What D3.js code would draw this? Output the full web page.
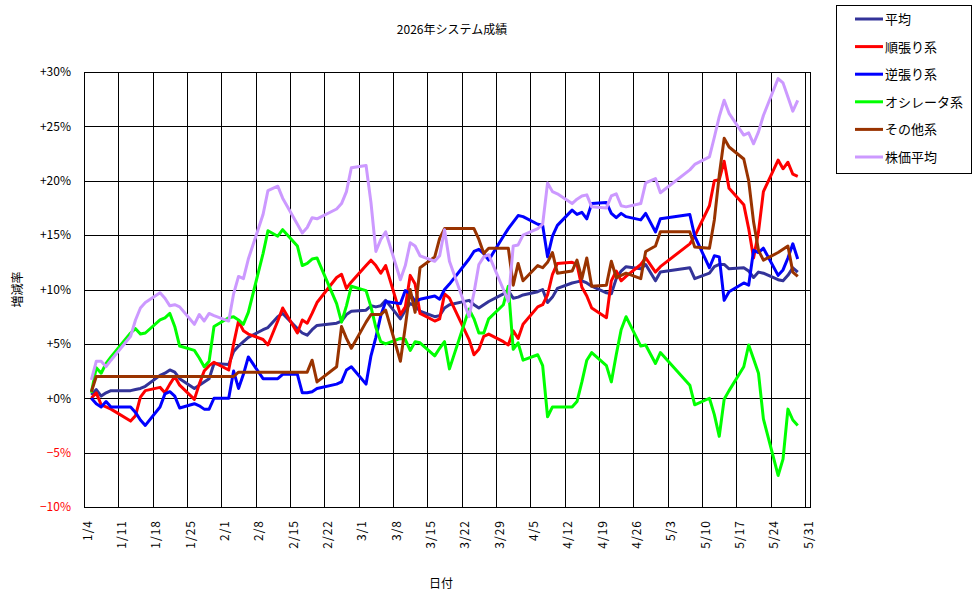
<!DOCTYPE html>
<html>
<head>
<meta charset="utf-8">
<script src="https://cdn.jsdelivr.net/npm/d3@7"></script>
<style>
  body { margin: 0; background: #fff; }
  text { font-family: "MS PGothic", "Noto Sans CJK JP", sans-serif; }
</style>
</head>
<body>
<script>
// trading days (2026)
var days = [
  "1/5","1/6","1/7","1/8","1/9","1/13","1/14","1/15","1/16","1/19","1/20","1/21","1/22","1/23","1/26","1/27","1/28","1/29","1/30",
  "2/2","2/3","2/4","2/5","2/6","2/9","2/10","2/12","2/13","2/16","2/17","2/18","2/19","2/20","2/24","2/25","2/26","2/27",
  "3/2","3/3","3/4","3/5","3/6","3/9","3/10","3/11","3/12","3/13","3/16","3/17","3/18","3/19","3/23","3/24","3/25","3/26","3/27","3/30","3/31",
  "4/1","4/2","4/3","4/6","4/7","4/8","4/9","4/10","4/13","4/14","4/15","4/16","4/17","4/20","4/21","4/22","4/23","4/24","4/27","4/28","4/30",
  "5/1","5/7","5/8","5/11","5/12","5/13","5/14","5/15","5/18","5/19","5/20","5/21","5/22","5/25","5/26","5/27","5/28","5/29"
];

// series values (%)
var heikin = [
  0.3,0.8,0.2,0.5,0.7, 0.7,0.8,0.9,1.1, 2.1,2.3,2.6,2.4,1.8, 0.9,1.2,1.5,1.8,3.2,
  3.1,4.3,4.8,5.2,5.6, 6.3,6.5,7.5,7.8, 6.4,6.0,5.8,6.3,6.7, 6.9,7.1,7.7,8.0,
  8.1,8.5,8.4,8.5,9.0, 7.3,8.1,8.7,8.5,8.0, 7.5,7.6,8.3,8.6, 9.0,8.6,8.3,8.6,8.9, 9.6,9.9,
  9.2,9.3,9.5, 9.8,10.0,8.8,9.3,10.1, 10.6,10.7,10.8,10.6,10.3, 9.7,9.6,11.0,11.7,12.1, 11.9,12.3,10.8,
  11.6, 12.0,11.0, 11.5,12.1,12.3,12.3,11.9, 12.0,11.7,11.1,11.6,11.5, 10.9,10.8,11.3,12.0,11.6
];
var junbari = [
  0.0,0.5,-0.6,-0.8,-1.0, -2.1,-1.6,0.1,0.7, 1.0,0.5,1.3,2.0,1.2, -0.1,1.3,2.5,3.0,3.3,
  2.6,5.0,7.1,6.2,5.9, 5.4,4.9,7.1,8.3, 6.0,7.2,6.9,7.8,8.8, 11.1,11.4,10.1,10.7,
  12.2,12.7,12.2,11.5,12.2, 7.7,8.4,11.3,10.5,7.8, 7.1,7.3,9.6,9.2, 5.4,4.0,4.5,5.7,5.9, 5.2,4.9,
  6.2,5.5,6.8, 8.4,8.6,9.5,11.4,12.4, 12.5,12.3,10.2,9.4,8.3, 7.4,10.8,11.7,10.8,11.2, 12.3,12.9,11.6,
  12.1, 14.2,14.9, 17.7,20.0,20.1,21.8,19.3, 17.8,15.6,12.9,15.3,19.0, 21.9,21.1,21.7,20.6,20.4
];
var gyakubari = [
  0.0,-0.5,-0.8,-0.3,-0.8, -0.8,-1.3,-2.0,-2.5, -0.8,0.4,0.6,0.2,-0.9, -0.5,-0.7,-1.0,-1.0,0.0,
  0.0,2.5,0.9,2.2,3.8, 1.8,1.8,1.8,2.2, 2.2,0.5,0.5,0.6,0.9, 1.3,1.5,2.6,2.9,
  1.3,3.9,5.6,7.6,8.9, 8.7,9.9,9.6,8.9,9.1, 9.4,9.1,10.0,10.5, 12.8,13.5,13.7,13.3,12.7, 14.9,15.6,
  16.2,16.8,16.7, 16.0,15.9,13.0,14.9,15.9, 17.3,16.9,17.1,16.5,17.9, 18.0,17.0,16.6,17.0,16.7, 16.4,17.0,15.3,
  16.5, 16.9,14.9, 12.0,13.1,13.0,9.0,9.8, 10.6,10.4,13.6,13.4,13.8, 11.3,11.8,12.9,14.2,12.8
];
var oscillator = [
  0.5,2.8,2.3,3.2,3.8, 6.0,6.4,5.9,6.0, 7.2,7.4,7.8,6.6,4.8, 4.4,3.7,2.9,3.4,6.6,
  7.4,7.5,7.2,6.8,7.9, 13.3,15.4,14.9,15.5, 14.0,12.2,12.4,12.8,12.9, 8.7,7.0,8.5,10.3,
  9.9,8.4,6.5,5.2,5.0, 5.5,5.4,4.4,5.2,5.1, 3.9,4.6,5.2,2.7, 8.2,7.3,6.0,6.0,7.3, 8.6,10.3,
  4.5,5.1,3.5, 4.0,3.0,-1.7,-0.8,-0.8, -0.8,-0.3,1.5,3.5,4.2, 3.0,1.5,4.0,6.3,7.5, 4.8,4.9,3.2,
  4.2, 1.2,-0.6, 0.0,-1.5,-3.5,-0.1,0.7, 2.9,4.9,3.6,2.3,-1.9, -7.1,-5.6,-1.0,-2.0,-2.5
];
var sonota = [
  0.6,2.0,2.0,2.0,2.0, 2.0,2.0,2.0,2.0, 2.0,2.0,2.0,2.0,2.0, 2.0,2.0,2.0,2.0,2.0,
  2.0,2.0,2.4,2.4,2.4, 2.4,2.4,2.4,2.4, 2.4,2.4,2.4,3.5,1.5, 2.9,6.6,5.5,4.6,
  7.0,7.7,7.7,7.7,8.1, 3.4,6.6,10.0,7.9,12.0, 13.0,14.7,15.6,15.6, 15.6,15.6,14.6,13.3,13.8, 13.8,13.8,
  10.4,12.4,10.8, 12.2,12.0,12.5,13.4,11.5, 11.7,12.7,11.0,12.9,10.3, 10.4,12.6,11.1,11.3,11.5, 11.0,13.5,14.0,
  15.3, 15.3,13.9, 13.8,16.4,20.5,23.9,23.1, 22.0,20.0,16.2,13.6,12.7, 13.4,13.7,14.0,11.6,11.2
];
var kabuka = [
  1.7,3.4,3.4,2.9,3.5, 5.7,7.2,8.3,8.8, 9.7,9.2,8.5,8.6,8.4, 6.8,7.7,7.1,7.8,7.6,
  7.1,9.6,11.2,11.0,12.8, 16.9,19.1,19.5,18.4, 16.0,15.2,15.7,16.6,16.5, 17.4,17.9,19.0,21.2,
  21.4,18.0,13.5,14.6,15.3, 10.9,12.2,14.3,14.0,13.1, 12.6,13.1,15.5,12.6, 7.5,9.7,12.3,13.0,13.2, 10.0,8.9,
  14.0,14.1,15.0, 15.6,16.0,19.8,19.0,18.8, 17.9,18.3,18.6,18.7,17.6, 17.5,18.6,18.8,17.7,17.6, 17.9,19.8,20.2,
  18.9, 21.0,21.5, 22.2,24.0,25.9,27.4,26.2, 24.2,24.4,23.4,24.5,26.0, 29.4,29.0,27.7,26.4,27.4
];

var seriesNames = ["平均", "順張り系", "逆張り系", "オシレータ系", "その他系", "株価平均"];
var seriesColors = ["#333399", "#ff0000", "#0000ff", "#00ff00", "#993300", "#cc99ff"];
var seriesValues = [heikin, junbari, gyakubari, oscillator, sonota, kabuka];
var yTicks = [-10, -5, 0, 5, 10, 15, 20, 25, 30];

// Define SVG area dimensions
var svgWidth = 976;
var svgHeight = 599;

var chartMargin = { top: 72, right: 166, bottom: 92, left: 84 };
var chartWidth = svgWidth - chartMargin.left - chartMargin.right;
var chartHeight = svgHeight - chartMargin.top - chartMargin.bottom;

var svg = d3.select("body")
  .append("svg")
  .attr("width", svgWidth)
  .attr("height", svgHeight);

var chartGroup = svg.append("g")
  .attr("transform", `translate(${chartMargin.left}, ${chartMargin.top})`);

// dates at midday
var parseDay = function(s) {
  var p = s.split("/");
  return new Date(2026, +p[0] - 1, +p[1], 12);
};
var dates = days.map(parseDay);

var xTimeScale = d3.scaleTime()
  .domain([new Date(2026, 0, 4), new Date(2026, 5, 1)])
  .range([0, chartWidth]);

var yLinearScale = d3.scaleLinear()
  .domain([-10, 30])
  .range([chartHeight, 0]);

var weekTicks = d3.timeWeek.range(new Date(2026, 0, 4), new Date(2026, 5, 1));

// grid lines
chartGroup.append("g")
  .selectAll("line")
  .data(yTicks)
  .enter()
  .append("line")
  .attr("x1", 0)
  .attr("x2", chartWidth)
  .attr("y1", d => Math.round(yLinearScale(d)) + 0.5)
  .attr("y2", d => Math.round(yLinearScale(d)) + 0.5)
  .attr("stroke", "#000");

chartGroup.append("g")
  .selectAll("line")
  .data(weekTicks)
  .enter()
  .append("line")
  .attr("x1", d => Math.round(xTimeScale(d)) + 0.5)
  .attr("x2", d => Math.round(xTimeScale(d)) + 0.5)
  .attr("y1", 0)
  .attr("y2", chartHeight)
  .attr("stroke", "#000");

chartGroup.append("rect")
  .attr("x", 0.5)
  .attr("y", 0.5)
  .attr("width", chartWidth)
  .attr("height", chartHeight)
  .attr("fill", "none")
  .attr("stroke", "#000");

// axes (labels only)
var leftAxis = d3.axisLeft(yLinearScale)
  .tickValues(yTicks)
  .tickSize(0)
  .tickPadding(13)
  .tickFormat(d => d < 0 ? "\u2212" + Math.abs(d) + "%" : "+" + d + "%");

var yAxisG = chartGroup.append("g").call(leftAxis);
yAxisG.select(".domain").remove();
yAxisG.selectAll("text")
  .attr("font-size", "12px")
  .attr("font-family", "\"MS PGothic\", \"Noto Sans CJK JP\", sans-serif")
  .attr("fill", d => d < 0 ? "#ff0000" : "#000");

var bottomAxis = d3.axisBottom(xTimeScale)
  .tickValues(weekTicks)
  .tickSize(0)
  .tickFormat(d => (d.getMonth() + 1) + "/" + d.getDate());

var xAxisG = chartGroup.append("g")
  .attr("transform", `translate(0, ${chartHeight})`)
  .call(bottomAxis);
xAxisG.select(".domain").remove();
xAxisG.selectAll("text")
  .attr("font-size", "12px")
  .attr("font-family", "\"MS PGothic\", \"Noto Sans CJK JP\", sans-serif")
  .attr("letter-spacing", "1px")
  .attr("fill", "#000")
  .attr("text-anchor", "end")
  .attr("transform", "rotate(-90)")
  .attr("x", -13)
  .attr("y", 3)
  .attr("dy", "0.35em");

// series lines
var line = d3.line()
  .x((d, i) => xTimeScale(dates[i]))
  .y(d => yLinearScale(d));

chartGroup.selectAll(".series")
  .data(seriesValues)
  .enter()
  .append("path")
  .attr("class", "series")
  .attr("d", d => line(d))
  .attr("fill", "none")
  .attr("stroke", (d, i) => seriesColors[i])
  .attr("stroke-width", 3)
  .attr("stroke-linejoin", "round");

// titles
svg.append("text")
  .attr("x", chartMargin.left + chartWidth / 2 + 5)
  .attr("y", 34)
  .attr("text-anchor", "middle")
  .attr("font-size", "12px")
  .text("2026年システム成績");

svg.append("text")
  .attr("x", chartMargin.left + chartWidth / 2 - 6)
  .attr("y", 588)
  .attr("text-anchor", "middle")
  .attr("font-size", "12px")
  .text("日付");

svg.append("text")
  .attr("transform", `translate(22, ${chartMargin.top + chartHeight / 2}) rotate(-90)`)
  .attr("text-anchor", "middle")
  .attr("font-size", "12px")
  .text("増減率");

// legend
var legend = svg.append("g");
legend.append("rect")
  .attr("x", 836.5)
  .attr("y", 5.5)
  .attr("width", 135)
  .attr("height", 168)
  .attr("fill", "#fff")
  .attr("stroke", "#000");

var legendItems = legend.selectAll(".item")
  .data(seriesNames)
  .enter()
  .append("g")
  .attr("class", "item")
  .attr("transform", (d, i) => `translate(855, ${19 + i * 27.6})`);

legendItems.append("line")
  .attr("x1", 0)
  .attr("x2", 28)
  .attr("stroke", (d, i) => seriesColors[i])
  .attr("stroke-width", 3);

legendItems.append("text")
  .attr("x", 30)
  .attr("dy", "0.38em")
  .attr("font-size", "13px")
  .text(d => d);
</script>
</body>
</html>
